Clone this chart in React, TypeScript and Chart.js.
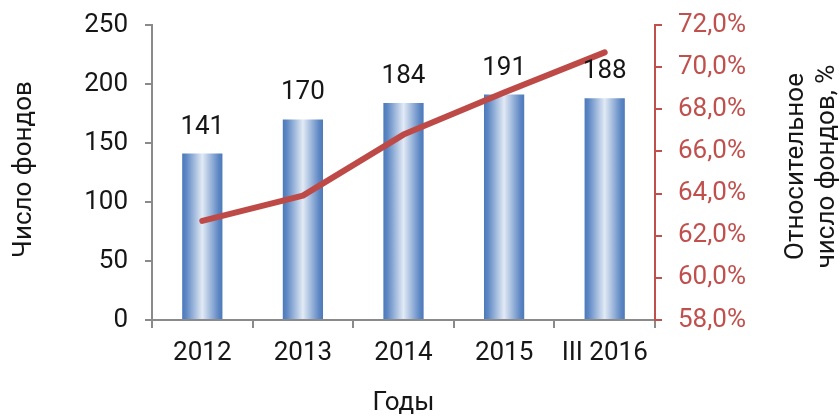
import React, { useEffect, useRef } from "react";
import { Chart, registerables } from "chart.js";

Chart.register(...registerables);

const categories = ["2012", "2013", "2014", "2015", "III 2016"];
const fundCounts = [141, 170, 184, 191, 188];
const relativeShare = [62.7, 63.9, 66.8, 68.8, 70.7];
const leftTitle = "Число фондов";
const rightTitleLines = ["Относительное", "число фондов, %"];
const xTitle = "Годы";

const FONT = "Roboto, 'DejaVu Sans', sans-serif";
const FSIZE = 26;
const FWEIGHT = "400";
const TEXT = "#161616";
const RED = "#c0504d";
const LINE_RED = "#bd4a47";
const GRAY = "#8a8a8a";

export default function App() {
  const ref = useRef<HTMLCanvasElement | null>(null);

  useEffect(() => {
    if (!ref.current) return;
    const BAR_PCT = 0.4;

    const labelsPlugin = {
      id: "extras",
      afterDatasetsDraw(chart: any) {
        const ctx = chart.ctx;
        const meta = chart.getDatasetMeta(1);
        ctx.save();
        ctx.font = `${FWEIGHT} ${FSIZE}px ${FONT}`;
        ctx.fillStyle = TEXT;
        ctx.textAlign = "center";
        ctx.textBaseline = "alphabetic";
        meta.data.forEach((bar: any, i: number) => {
          ctx.fillText(String(fundCounts[i]), bar.x, bar.y - 20);
        });
        ctx.restore();
      },
      afterDraw(chart: any) {
        const ctx = chart.ctx;
        const area = chart.chartArea;
        const cy = (area.top + area.bottom) / 2;
        ctx.save();
        ctx.font = `${FWEIGHT} ${FSIZE}px ${FONT}`;
        ctx.fillStyle = TEXT;
        ctx.textAlign = "center";
        ctx.textBaseline = "middle";
        ctx.save();
        ctx.translate(24, cy - 3);
        ctx.rotate(-Math.PI / 2);
        ctx.fillText(leftTitle, 0, 0);
        ctx.restore();
        const xs = [796, 827];
        rightTitleLines.forEach((t, i) => {
          ctx.save();
          ctx.translate(xs[i], cy - 6);
          ctx.rotate(-Math.PI / 2);
          ctx.fillText(t, 0, 0);
          ctx.restore();
        });
        ctx.fillText(xTitle, (area.left + area.right) / 2, 403);
        ctx.restore();
      },
    };

    const tickFont = { family: FONT, size: FSIZE, weight: FWEIGHT };

    const chart = new Chart(ref.current, {
      type: "bar",
      data: {
        labels: categories,
        datasets: [
          {
            type: "line",
            label: "share",
            data: relativeShare,
            yAxisID: "y1",
            borderColor: LINE_RED,
            borderWidth: 6,
            borderCapStyle: "round",
            borderJoinStyle: "round",
            pointRadius: 0,
            tension: 0,
            order: 0,
          } as any,
          {
            type: "bar",
            label: "count",
            data: fundCounts,
            yAxisID: "y",
            barPercentage: BAR_PCT,
            categoryPercentage: 1,
            order: 1,
            backgroundColor: (c: any) => {
              const chart = c.chart;
              const xs = chart.scales && chart.scales.x;
              if (!xs || c.type !== "data" || !xs.width) return "#6f95c9";
              const center = xs.getPixelForValue(c.dataIndex);
              const w = (xs.width / categories.length) * BAR_PCT;
              const g = chart.ctx.createLinearGradient(center - w / 2, 0, center + w / 2, 0);
              g.addColorStop(0, "#4b79b9");
              g.addColorStop(0.1, "#5e88c4");
              g.addColorStop(0.5, "#e2eaf5");
              g.addColorStop(0.9, "#5e88c4");
              g.addColorStop(1, "#4b79b9");
              return g;
            },
          } as any,
        ],
      },
      options: {
        animation: false,
        responsive: false,
        maintainAspectRatio: false,
        layout: { padding: { top: 25, left: 0, right: 0, bottom: 0 } },
        plugins: {
          legend: { display: false },
          tooltip: { enabled: false },
        },
        scales: {
          x: {
            grid: {
              offset: true,
              drawOnChartArea: false,
              drawTicks: true,
              tickLength: 8,
              color: GRAY,
              lineWidth: 2,
            },
            border: { color: GRAY, width: 2 },
            ticks: {
              color: TEXT,
              font: tickFont,
              padding: 10,
              maxRotation: 0,
              autoSkip: false,
            },
            afterFit: (s: any) => {
              s.height = 98;
              s.paddingLeft = 0;
              s.paddingRight = 0;
            },
          },
          y: {
            position: "left",
            min: 0,
            max: 250,
            ticks: {
              stepSize: 50,
              color: TEXT,
              font: tickFont,
              padding: 17,
            },
            grid: {
              drawOnChartArea: false,
              tickLength: 7,
              color: GRAY,
              lineWidth: 2,
            },
            border: { color: GRAY, width: 2 },
            afterFit: (s: any) => {
              s.width = 152;
              s.paddingTop = 5;
              s.paddingBottom = 5;
            },
          },
          y1: {
            position: "right",
            min: 58,
            max: 72,
            ticks: {
              stepSize: 2,
              color: RED,
              font: tickFont,
              padding: 16,
              callback: (v: any) => Number(v).toFixed(1).replace(".", ",") + "%",
            },
            grid: {
              drawOnChartArea: false,
              tickLength: 7,
              color: RED,
              lineWidth: 2,
            },
            border: { color: RED, width: 2 },
            afterFit: (s: any) => {
              s.width = 185;
              s.paddingTop = 5;
              s.paddingBottom = 5;
            },
          },
        },
      },
      plugins: [labelsPlugin],
    });
    return () => chart.destroy();
  }, []);

  return (
    <div style={{ position: "fixed", left: 0, top: 0, width: 840, height: 418, background: "#fff" }}>
      <canvas ref={ref} width={840} height={418} style={{ width: 840, height: 418 }} />
    </div>
  );
}
